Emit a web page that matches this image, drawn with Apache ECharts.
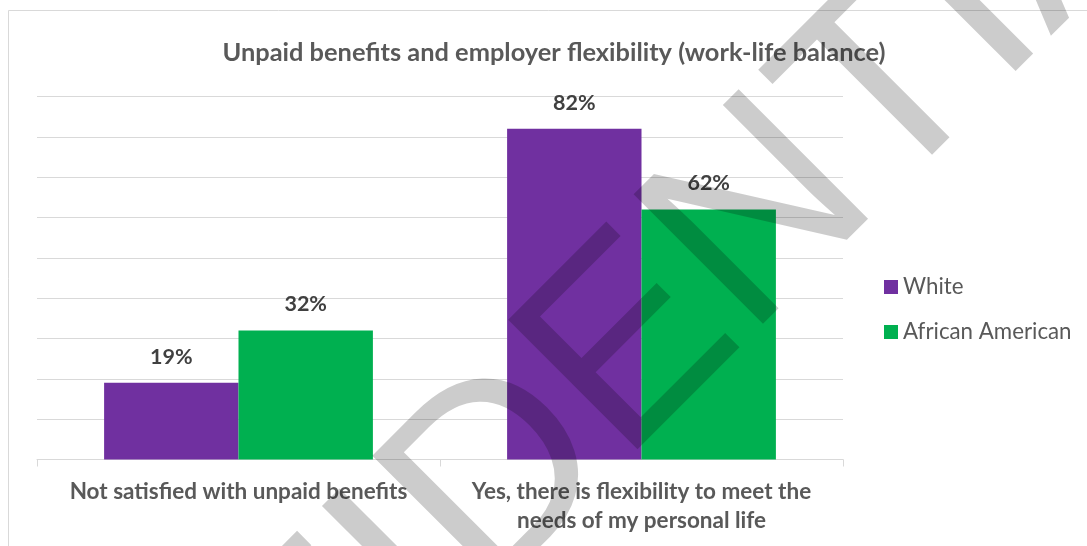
<!DOCTYPE html>
<html>
<head>
<meta charset="utf-8">
<title>Unpaid benefits and employer flexibility</title>
<script src="https://cdn.jsdelivr.net/npm/echarts@6/dist/echarts.min.js"></script>
<style>
  html, body { margin: 0; padding: 0; background: #ffffff; }
  #chart { width: 1087px; height: 546px; }
</style>
</head>
<body>
<div id="chart"></div>
<script>
// Survey categories (x axis)
const categories = [
  'Not satisfied with unpaid benefits',
  'Yes, there is flexibility to meet the\nneeds of my personal life'
];
// Share of respondents, in percent
const whiteValues = [19, 82];
const africanAmericanValues = [32, 62];
const seriesNames = ['White', 'African American'];
const chartTitle = 'Unpaid benefits and employer flexibility (work-life balance)';
const watermarkText = 'CONFIDENTIAL';

const FONT = 'Lato, "Open Sans", sans-serif';
const TEXT_GREY = '#595959';
const GRID_GREY = '#d9d9d9';

const chart = echarts.init(document.getElementById('chart'), null, { renderer: 'canvas' });

const percentLabel = {
  show: true,
  position: 'top',
  distance: 15,
  formatter: p => p.value + '%',
  fontFamily: FONT,
  fontWeight: 'bold',
  fontSize: 21.5,
  color: '#404040'
};

chart.setOption({
  animation: false,
  backgroundColor: '#ffffff',
  title: {
    text: chartTitle,
    left: 549,
    top: 35,
    textAlign: 'center',
    textStyle: {
      fontFamily: FONT,
      fontWeight: 'bold',
      fontSize: 25.4,
      color: TEXT_GREY
    }
  },
  legend: {
    orient: 'vertical',
    left: 884,
    top: 276,
    padding: 0,
    icon: 'rect',
    itemWidth: 14,
    itemHeight: 14,
    itemGap: 23,
    data: seriesNames,
    textStyle: {
      fontFamily: FONT,
      fontSize: 22.3,
      color: TEXT_GREY
    }
  },
  grid: {
    left: 37,
    right: 244,
    top: 96.5,
    bottom: 86.5,
    containLabel: false
  },
  xAxis: {
    type: 'category',
    data: categories,
    axisLine: { lineStyle: { color: GRID_GREY, width: 1 } },
    axisTick: { show: true, length: 7, lineStyle: { color: GRID_GREY } },
    axisLabel: {
      interval: 0,
      margin: 18,
      fontFamily: FONT,
      fontWeight: 'bold',
      fontSize: 22.5,
      lineHeight: 29,
      color: TEXT_GREY
    }
  },
  yAxis: {
    type: 'value',
    min: 0,
    max: 90,
    interval: 10,
    axisLine: { show: false },
    axisTick: { show: false },
    axisLabel: { show: false },
    splitLine: { lineStyle: { color: GRID_GREY, width: 1 } }
  },
  series: [
    {
      name: seriesNames[0],
      type: 'bar',
      data: whiteValues,
      barGap: '0%',
      barCategoryGap: '33.3%',
      itemStyle: { color: '#7030A0' },
      label: percentLabel
    },
    {
      name: seriesNames[1],
      type: 'bar',
      data: africanAmericanValues,
      barGap: '0%',
      barCategoryGap: '33.3%',
      itemStyle: { color: '#00B050' },
      label: percentLabel
    }
  ],
  graphic: [
    {
      // chart frame
      type: 'rect',
      silent: true,
      z: -10,
      shape: { x: 8.5, y: 10.5, width: 1200, height: 600 },
      style: { fill: 'none', stroke: GRID_GREY, lineWidth: 1 }
    },
    {
      // diagonal watermark across the chart
      type: 'text',
      silent: true,
      z: 100,
      x: 539,
      y: 444,
      rotation: Math.PI / 4,
      style: {
        text: watermarkText,
        fontFamily: '"Liberation Sans", Arial, sans-serif',
        fontSize: 266,
        fill: 'rgba(0,0,0,0.2)',
        align: 'center',
        verticalAlign: 'middle',
        textAlign: 'center',
        textVerticalAlign: 'middle'
      }
    }
  ]
});
</script>
</body>
</html>
